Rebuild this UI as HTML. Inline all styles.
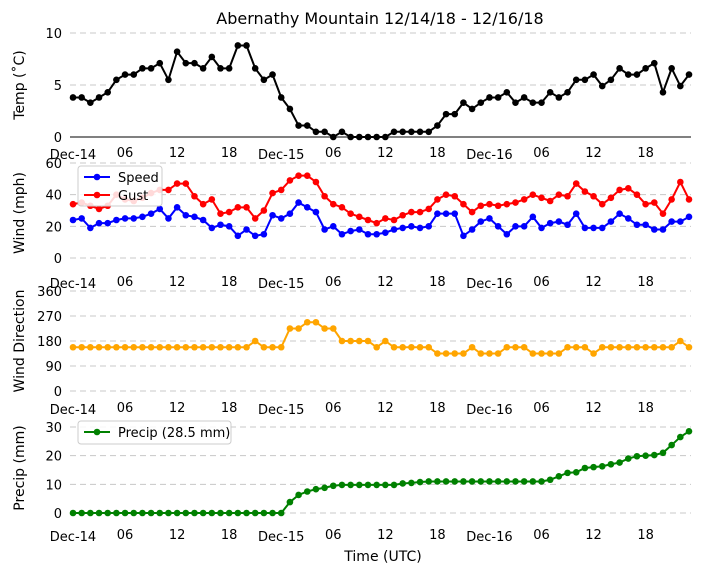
<!DOCTYPE html>
<html><head><meta charset="utf-8"><style>
body{margin:0;background:#fff;font-family:"Liberation Sans","DejaVu Sans",sans-serif}
svg text{font-family:"DejaVu Sans","Liberation Sans",sans-serif}
</style></head><body>
<svg id="c" width="704" height="573" xmlns="http://www.w3.org/2000/svg">
<text x="380" y="24" font-size="16" text-anchor="middle">Abernathy Mountain 12/14/18 - 12/16/18</text>
<text x="383" y="561" font-size="14" text-anchor="middle">Time (UTC)</text>
</svg>
<script>
const tickIdx=[0,6,12,18,24,30,36,42,48,54,60,66];
const tickLabels=["Dec-14","06","12","18","Dec-15","06","12","18","Dec-16","06","12","18"];
const temp=[3.8,3.8,3.3,3.8,4.3,5.5,6.0,6.0,6.6,6.6,7.1,5.5,8.2,7.1,7.1,6.6,7.7,6.6,6.6,8.8,8.8,6.6,5.5,6.0,3.8,2.7,1.1,1.1,0.5,0.5,0,0.5,0,0,0,0,0,0.5,0.5,0.5,0.5,0.5,1.1,2.2,2.2,3.3,2.7,3.3,3.8,3.8,4.3,3.3,3.8,3.3,3.3,4.3,3.8,4.3,5.5,5.5,6.0,4.9,5.5,6.6,6.0,6.0,6.6,7.1,4.3,6.6,4.9,6.0];
const speed=[24,25,19,22,22,24,25,25,26,28,31,25,32,27,26,24,19,21,20,14,18,14,15,27,25,28,35,32,29,18,20,15,17,18,15,15,16,18,19,20,19,20,28,28,28,14,18,23,25,20,15,20,20,26,19,22,23,21,28,19,19,19,23,28,25,21,21,18,18,23,23,26];
const gust=[34,35,33,31,33,40,37,36,38,41,43,43,47,47,39,34,37,28,29,32,32,25,30,41,43,49,52,52,48,39,34,32,28,26,24,22,25,24,27,29,29,31,37,40,39,34,29,33,34,33,34,35,37,40,38,36,40,39,47,42,39,34,38,43,44,40,34,35,28,37,48,37];
const dir=[157.5,157.5,157.5,157.5,157.5,157.5,157.5,157.5,157.5,157.5,157.5,157.5,157.5,157.5,157.5,157.5,157.5,157.5,157.5,157.5,157.5,180,157.5,157.5,157.5,225,225,247.5,247.5,225,225,180,180,180,180,157.5,180,157.5,157.5,157.5,157.5,157.5,135,135,135,135,157.5,135,135,135,157.5,157.5,157.5,135,135,135,135,157.5,157.5,157.5,135,157.5,157.5,157.5,157.5,157.5,157.5,157.5,157.5,157.5,180,157.5];
const precip=[0,0,0,0,0,0,0,0,0,0,0,0,0,0,0,0,0,0,0,0,0,0,0,0,0,3.8,6.3,7.5,8.3,8.8,9.5,9.8,9.8,9.8,9.8,9.8,9.8,9.8,10.3,10.5,10.8,11,11,11,11,11,11,11,11,11,11,11,11,11,11,11.6,12.8,14,14.2,15.7,16,16.3,17,17.6,19,19.8,20,20.2,21,23.7,26.5,28.5];

const NS="http://www.w3.org/2000/svg";
const svg=document.getElementById('c');
const x0=73,x1=689,n=72;
const xs=i=>x0+(x1-x0)*i/(n-1);
function mk(t,a,p){const e=document.createElementNS(NS,t);for(const k in a)e.setAttribute(k,a[k]);(p||svg).appendChild(e);return e;}
function panel(name,yTop,yBot,vmax,ticks,label,labelY,tickY,solidBase){
  const g=mk('g',{});
  
  
  const ys=v=>yBot-(yBot-yTop)*v/vmax;
  ticks.forEach(t=>{
    const y=ys(t);
    const ln=mk('line',{x1:70,x2:691,y1:y,y2:y,stroke:(solidBase&&t===0)?'#000':'#c8c8c8','stroke-width':1,'stroke-dasharray':(solidBase&&t===0)?'':'6,4'},g);
    
    
    const tx=mk('text',{x:62,y:y+5,'font-size':13,'text-anchor':'end'},g);
    tx.textContent=t;
    
    
  });
  tickIdx.forEach((ix,k)=>{
    const tx=mk('text',{x:xs(ix),y:tickY+(ix%24===0?2:0),'font-size':13,'text-anchor':'middle'},g);
    tx.textContent=tickLabels[k];
    
    
  });
  const yl=mk('text',{x:0,y:0,'font-size':14,'text-anchor':'middle',transform:`translate(24,${labelY}) rotate(-90)`},g);
  yl.textContent=label;
  
  
  return {g,ys};
}
function series(p,arr,color,name){
  const pts=arr.map((v,i)=>xs(i)+','+p.ys(v)).join(' ');
  const pl=mk('polyline',{points:pts,fill:'none',stroke:color,'stroke-width':2},p.g);
  
  
  arr.forEach((v,i)=>{
    const c=mk('circle',{cx:xs(i),cy:p.ys(v),r:3.3,fill:color},p.g);
    
    
  });
}
const p1=panel('temp',33,137,10,[0,5,10],'Temp (˚C)',85,157,true);
series(p1,temp,'#000','temp');
const p2=panel('wind',163,258,60,[0,20,40,60],'Wind (mph)',213,286,false);
series(p2,speed,'#0000ff','speed');
series(p2,gust,'#ff0000','gust');
const p3=panel('direction',291,391,360,[0,90,180,270,360],'Wind Direction',341,412,false);
series(p3,dir,'#ffa500','direction');
const p4=panel('precip',427,513,30,[0,10,20,30],'Precip (mm)',468,539,false);
series(p4,precip,'#008000','precip');
function legend(p,x,y,w,h,items,name){
  const g=mk('g',{},p.g);
  
  
  mk('rect',{x,y,width:w,height:h,rx:3,fill:'#fff','fill-opacity':0.85,stroke:'#ccc'},g);
  items.forEach((it,k)=>{
    const cy=y+11+k*18;
    mk('line',{x1:x+6,x2:x+32,y1:cy,y2:cy,stroke:it[1],'stroke-width':2},g);
    mk('circle',{cx:x+19,cy,r:3.3,fill:it[1]},g);
    const t=mk('text',{x:x+40,y:cy+5,'font-size':13},g);
    t.textContent=it[0];
    
    
  });
}
legend(p2,78,166,84,40,[['Speed','#0000ff'],['Gust','#ff0000']],'wind-legend');
legend(p4,78,421,153,23,[['Precip (28.5 mm)','#008000']],'precip-legend');
</script>
</body></html>
